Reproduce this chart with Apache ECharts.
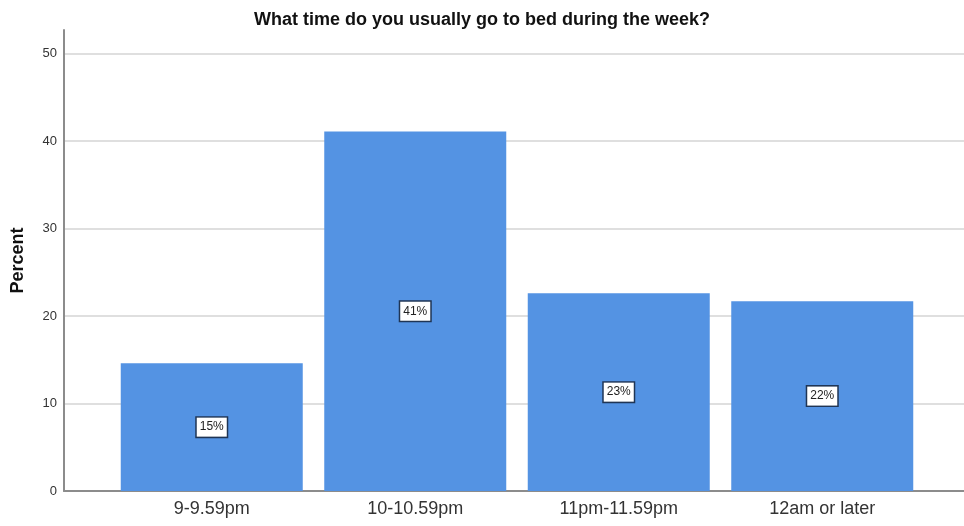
<!DOCTYPE html>
<html>
<head>
<meta charset="utf-8">
<script src="https://cdn.jsdelivr.net/npm/echarts@6/dist/echarts.min.js"></script>
<style>
  html, body { margin: 0; padding: 0; background: #fff; }
  #chart { width: 964px; height: 526px; }
</style>
</head>
<body>
<div id="chart"></div>
<script>
// Data
var categories = ['9-9.59pm', '10-10.59pm', '11pm-11.59pm', '12am or later'];
var percentValues = [14.6, 41.1, 22.6, 21.7];
var yTicks = [0, 10, 20, 30, 40, 50];

var FONT = 'Liberation Sans, Arial, sans-serif';
var barColor = '#5493E3';

var myChart = echarts.init(document.getElementById('chart'));

// y axis goes a bit above 50 like the original
var yMax = 52.7;

var option = {
    animation: false,
    title: {
        text: 'What time do you usually go to bed during the week?',
        left: 'center',
        top: 6,
        textStyle: {
            fontFamily: FONT,
            fontSize: 18,
            fontWeight: 'bold',
            color: '#111'
        }
    },
    grid: [
        // outer grid: axis lines + gridlines
        { left: 64, right: 0, top: 30, bottom: 35 },
        // inner grid: bars + category labels
        { left: 110, right: 40, top: 30, bottom: 35 }
    ],
    xAxis: [
        {
            type: 'category',
            gridIndex: 0,
            data: [''],
            axisLine: { show: true, lineStyle: { color: '#8c8c8c', width: 2 } },
            axisTick: { show: false },
            axisLabel: { show: false },
            splitLine: { show: false }
        },
        {
            type: 'category',
            gridIndex: 1,
            data: categories,
            axisLine: { show: false },
            axisTick: { show: false },
            axisLabel: {
                fontFamily: FONT,
                fontSize: 18,
                color: '#333',
                margin: 9
            }
        }
    ],
    yAxis: [
        {
            type: 'value',
            gridIndex: 0,
            min: 0,
            max: yMax,
            interval: 10,
            name: 'Percent',
            nameLocation: 'middle',
            nameRotate: 90,
            nameGap: 37,
            nameTextStyle: {
                fontFamily: FONT,
                fontSize: 18,
                fontWeight: 'bold',
                color: '#111'
            },
            axisLine: { show: true, lineStyle: { color: '#8c8c8c', width: 2 } },
            axisTick: { show: false },
            axisLabel: {
                fontFamily: FONT,
                fontSize: 13,
                color: '#333',
                margin: 7,
                formatter: function (v) {
                    return yTicks.indexOf(v) >= 0 ? String(v) : '';
                }
            },
            splitLine: {
                show: true,
                showMinLine: false,
                showMaxLine: false,
                lineStyle: { color: '#d4d4d4', width: 1.5 }
            }
        },
        {
            type: 'value',
            gridIndex: 1,
            min: 0,
            max: yMax,
            interval: 10,
            show: false,
            splitLine: { show: false }
        }
    ],
    series: [
        {
            type: 'bar',
            xAxisIndex: 1,
            yAxisIndex: 1,
            data: percentValues,
            barWidth: 182,
            itemStyle: { color: barColor },
            label: {
                show: true,
                position: 'inside',
                formatter: function (p) {
                    return Math.round(p.value) + '%';
                },
                fontFamily: FONT,
                fontSize: 12,
                color: '#222',
                backgroundColor: '#fff',
                borderColor: '#1f3555',
                borderWidth: 1.5,
                padding: [4, 3, 3, 3]
            }
        }
    ]
};

myChart.setOption(option);

window.onresize = function () {
    myChart.resize();
};
</script>
</body>
</html>
